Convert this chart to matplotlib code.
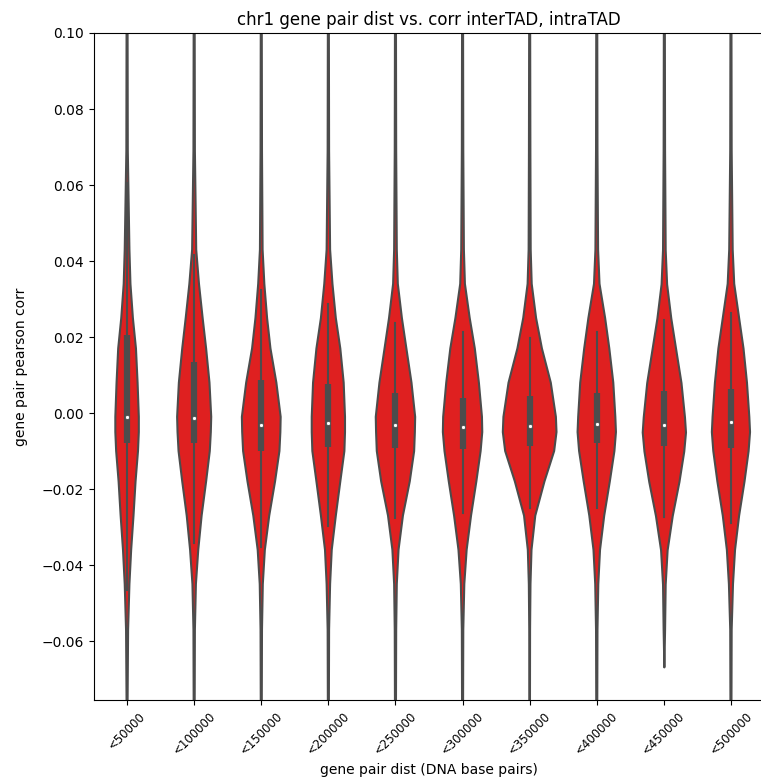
import matplotlib.pyplot as plt
import numpy as np

categories = ["<50000", "<100000", "<150000", "<200000", "<250000",
              "<300000", "<350000", "<400000", "<450000", "<500000"]

# correlation values at which each violin's density was taken
corr_levels = [0.100, 0.069, 0.043, 0.034, 0.025, 0.017, 0.008, -0.001,
               -0.005, -0.010, -0.018, -0.027, -0.036, -0.045, -0.057, -0.076]

dens_50k = [0.5, 0.7, 2.3, 3.3, 5.7, 8.7, 10.3, 11.5, 11.5, 10.7, 8.3, 6.3, 4.0, 2.3, 1.0, 0.5]
dens_100k = [0.5, 0.7, 2.0, 4.7, 8.3, 11.7, 15.0, 16.7, 16.3, 15.3, 11.7, 7.3, 4.0, 1.7, 0.7, 0.5]
dens_150k = [0.5, 0.7, 1.3, 3.0, 5.7, 9.0, 14.8, 19.0, 18.7, 17.8, 13.5, 7.8, 3.5, 1.5, 0.7, 0.5]
dens_200k = [0.5, 0.7, 1.7, 4.0, 7.3, 11.7, 15.0, 16.3, 16.3, 15.7, 11.7, 7.3, 3.3, 1.7, 0.7, 0.5]
dens_250k = [0.5, 0.7, 1.3, 2.3, 6.3, 10.7, 15.7, 19.3, 19.0, 18.3, 14.0, 7.3, 3.0, 1.3, 0.7, 0.5]
dens_300k = [0.5, 0.7, 1.3, 2.3, 7.0, 12.0, 16.0, 19.0, 19.3, 17.7, 13.5, 8.3, 4.0, 1.7, 0.7, 0.5]
dens_350k = [0.5, 0.7, 1.0, 2.0, 6.3, 12.0, 20.7, 25.7, 26.3, 24.0, 14.5, 5.5, 1.8, 0.8, 0.4, 0.3]
dens_400k = [0.5, 0.7, 1.3, 2.7, 8.2, 12.3, 16.2, 18.2, 18.8, 17.3, 12.8, 7.3, 3.2, 1.5, 0.7, 0.5]
dens_450k = [0.5, 0.7, 1.3, 2.7, 6.8, 11.5, 16.8, 20.2, 21.2, 19.5, 14.8, 8.2, 3.2, 1.3, 0.7, np.nan]
dens_500k = [0.5, 0.7, 1.7, 3.2, 8.0, 12.3, 15.7, 18.0, 18.7, 17.3, 13.3, 8.0, 4.0, 2.0, 0.7, 0.5]

densities = [dens_50k, dens_100k, dens_150k, dens_200k, dens_250k,
             dens_300k, dens_350k, dens_400k, dens_450k, dens_500k]

# extent of each violin (tails run past the plotted range)
corr_max = [0.12, 0.12, 0.12, 0.12, 0.12, 0.12, 0.12, 0.12, 0.12, 0.12]
corr_min = [-0.09, -0.09, -0.09, -0.09, -0.09, -0.09, -0.09, -0.09, -0.0668, -0.09]

# inner box statistics
q1 = [-0.0079, -0.0078, -0.0100, -0.0089, -0.0092, -0.0095, -0.0087, -0.0079, -0.0087, -0.0092]
median = [-0.0010, -0.0013, -0.0032, -0.0025, -0.0032, -0.0036, -0.0034, -0.0029, -0.0032, -0.0024]
q3 = [0.0205, 0.0134, 0.0087, 0.0076, 0.0053, 0.0039, 0.0045, 0.0053, 0.0058, 0.0062]
whisk_lo = [-0.0466, -0.0343, -0.0352, -0.0297, -0.0277, -0.0264, -0.0250, -0.0250, -0.0273, -0.0289]
whisk_hi = [0.0605, 0.0416, 0.0324, 0.0287, 0.0236, 0.0214, 0.0197, 0.0214, 0.0245, 0.0262]

fill_color = (0.875, 0.125, 0.125)
gray = "#4c4c4c"

fig = plt.figure(figsize=(7.61, 7.8), dpi=100)
ax = fig.add_axes([0.1229, 0.1026, 0.8817, 0.8551])

max_dens = np.nanmax(np.array(densities, dtype=float))
scale = 0.4 / max_dens

for i, dens in enumerate(densities):
    d = np.array(dens, dtype=float)
    y = np.array(corr_levels)
    keep = ~np.isnan(d) & (y > corr_min[i]) & (y < corr_max[i])
    y = np.concatenate([[corr_max[i]], y[keep], [corr_min[i]]])
    hw = np.concatenate([[0.0], d[keep] * scale, [0.0]])
    ax.fill_betweenx(y, i - hw, i + hw, facecolor=fill_color,
                     edgecolor=gray, linewidth=1.5, zorder=1)

    ax.plot([i, i], [whisk_lo[i], whisk_hi[i]], color=gray, linewidth=1.5, zorder=2)
    ax.plot([i, i], [q1[i], q3[i]], color=gray, linewidth=4.5,
            solid_capstyle="butt", zorder=2)
    ax.scatter(i, median[i], s=9, color="white", edgecolor=gray,
               linewidth=0.6, zorder=3)

ax.spines["right"].set_visible(False)
ax.set_xlim(-0.5, len(categories) - 0.5)
ax.set_ylim(-0.0755, 0.1)
ax.set_xticks(range(len(categories)))
ax.set_xticklabels(categories, rotation=45, fontsize=8.5)
ax.set_title("chr1 gene pair dist vs. corr interTAD, intraTAD", fontsize=12)
ax.set_xlabel("gene pair dist (DNA base pairs)", fontsize=10)
ax.set_ylabel("gene pair pearson corr", fontsize=10, labelpad=10)

fig.savefig("out.png", dpi=100)
